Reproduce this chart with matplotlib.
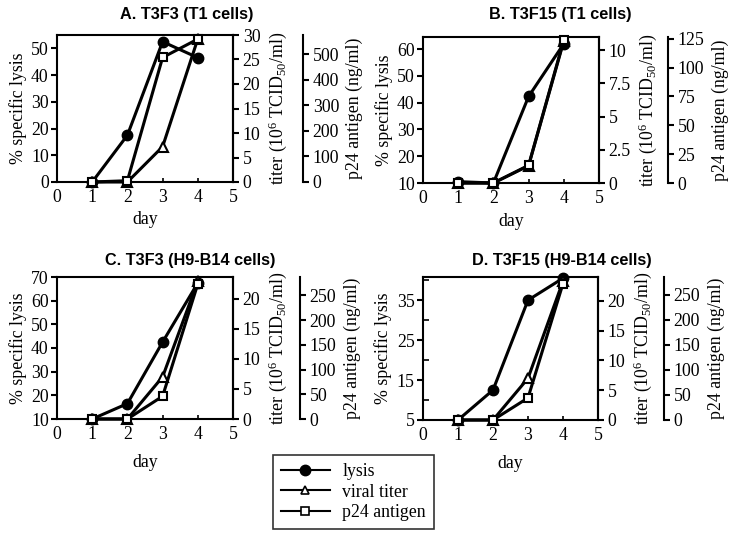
import matplotlib
matplotlib.use('Agg')
import matplotlib.pyplot as plt
from matplotlib.lines import Line2D
from matplotlib.ticker import AutoMinorLocator

plt.rcParams['font.family'] = ['Liberation Serif', 'DejaVu Serif']
plt.rcParams['mathtext.default'] = 'regular'

# Daten -------------------------------------------------------------------
days = [1, 2, 3, 4]
x_ticks = [0, 1, 2, 3, 4, 5]

titles = ['A. T3F3 (T1 cells)', 'B. T3F15 (T1 cells)',
          'C. T3F3 (H9-B14 cells)', 'D. T3F15 (H9-B14 cells)']

lysis_a = [0, 17.5, 52.5, 46.5]
titer_a = [0, 0, 7.2, 29.2]
p24_a = [0, 5, 487, 559]

lysis_b = [10.5, 10, 42.3, 62]
titer_b = [0, 0, 1.3, 10.7]
p24_b = [0, 0, 15.3, 124]

lysis_c = [10, 16.5, 42.5, 67.5]
titer_c = [0, 0, 7.0, 22.9]
p24_c = [0, 0, 46, 273]

lysis_d = [5, 12.5, 35, 40.5]
titer_d = [0, 0, 7.0, 23.3]
p24_d = [0, 0, 44, 272]

# Achsen-Skalen
lysis_ticks = [[0, 10, 20, 30, 40, 50], [10, 20, 30, 40, 50, 60],
               [10, 20, 30, 40, 50, 60, 70], [5, 15, 25, 35]]
lysis_lims = [(0, 55), (10, 64.5), (10, 70), (5, 40.8)]
titer_ticks = [[0, 5, 10, 15, 20, 25, 30], [0, 2.5, 5, 7.5, 10],
               [0, 5, 10, 15, 20], [0, 5, 10, 15, 20]]
titer_labels = [None, ['0', '2.5', '5', '7.5', '10'], None, None]
titer_lims = [(0, 30), (0, 11), (0, 23.6), (0, 24)]
p24_ticks = [[0, 100, 200, 300, 400, 500], [0, 25, 50, 75, 100, 125],
             [0, 50, 100, 150, 200, 250], [0, 50, 100, 150, 200, 250]]
p24_lims = [(0, 575), (0, 126.5), (0, 287), (0, 285)]

lysis_all = [lysis_a, lysis_b, lysis_c, lysis_d]
titer_all = [titer_a, titer_b, titer_c, titer_d]
p24_all = [p24_a, p24_b, p24_c, p24_d]

# Layout (Pixel -> Figur-Anteile)
W, H = 732, 538
boxes = [(57, 35, 176, 147), (423, 37, 176, 146),
         (57, 277, 176, 142), (423, 277, 175, 143)]
p24_offset = [70, 69, 67, 66]  # Pixel
title_pos = [(187, 15), (560, 15), (190, 260), (562, 260)]
day_pad = [4, 4, 8, 8]

fig = plt.figure(figsize=(7.32, 5.38), dpi=100)
lw = 2.2
fs = 12.8

for i in range(4):
    l, t, w, h = boxes[i]
    ax = fig.add_axes([l / W, 1 - (t + h) / H, w / W, h / H])
    ax2 = ax.twinx()
    ax3 = ax.twinx()
    ax3.spines['right'].set_position(('outward', p24_offset[i] * 0.72))
    for a in (ax2, ax3):
        for s in ('top', 'left', 'bottom'):
            a.spines[s].set_visible(False)
    for s in ax.spines.values():
        s.set_linewidth(1.5)
    for a in (ax2, ax3):
        a.spines['right'].set_linewidth(1.5)

    ax.plot(days, lysis_all[i], color='black', lw=lw, marker='o', ms=7.5,
            mfc='black', mec='black', clip_on=False, zorder=3)
    ax2.plot(days, titer_all[i], color='black', lw=lw, marker='^', ms=6.5,
             mfc='white', mec='black', mew=1.5, clip_on=False, zorder=3)
    ax3.plot(days, p24_all[i], color='black', lw=lw, marker='s', ms=6,
             mfc='white', mec='black', mew=1.5, clip_on=False, zorder=3)

    ax.set_xlim(0, 5)
    ax.set_xticks(x_ticks)
    ax.set_ylim(*lysis_lims[i])
    ax.set_yticks(lysis_ticks[i])
    if i == 3:
        ax.yaxis.set_minor_locator(AutoMinorLocator(2))
        ax.tick_params(axis='y', which='minor', direction='in', length=4, width=1.2)
    ax2.set_ylim(*titer_lims[i])
    ax2.set_yticks(titer_ticks[i])
    if titer_labels[i] is not None:
        ax2.set_yticklabels(titer_labels[i])
    ax3.set_ylim(*p24_lims[i])
    ax3.set_yticks(p24_ticks[i])

    ax.tick_params(axis='y', direction='out', length=4, width=1.5, labelsize=fs, pad=2)
    ax.tick_params(axis='x', direction='in', length=3, width=1.2, labelsize=fs, pad=5)
    for a in (ax2, ax3):
        a.tick_params(axis='y', direction='out', length=4, width=1.5, labelsize=fs, pad=3)

    ax.set_ylabel('% specific lysis', fontsize=fs, labelpad=3)
    ax2.set_ylabel('titer (10$^{6}$ TCID$_{50}$/ml)', fontsize=fs, labelpad=4)
    ax3.set_ylabel('p24 antigen (ng/ml)', fontsize=fs, labelpad=5)
    ax.set_xlabel('day', fontsize=fs, labelpad=day_pad[i])

    tx, ty = title_pos[i]
    fig.text(tx / W, 1 - ty / H, titles[i], ha='center', va='center',
             fontsize=11.7, fontweight='bold', family=['Liberation Sans', 'DejaVu Sans'])

# Legende ------------------------------------------------------------------
handles = [
    Line2D([], [], color='black', lw=1.5, marker='o', ms=7.5, mfc='black'),
    Line2D([], [], color='black', lw=1.5, marker='^', ms=6, mfc='white', mew=1.2),
    Line2D([], [], color='black', lw=1.5, marker='s', ms=5.5, mfc='white', mew=1.2),
]
leg = fig.legend(handles, ['lysis', 'viral titer', 'p24 antigen'],
                 loc='upper left', bbox_to_anchor=(273 / W, 1 - 455 / H),
                 borderaxespad=0, frameon=True, fancybox=False, edgecolor='black',
                 fontsize=fs, handlelength=2.75, borderpad=0.45, labelspacing=0.2,
                 handletextpad=0.7)
leg.get_frame().set_linewidth(1.2)

fig.savefig('out.png', dpi=100)
